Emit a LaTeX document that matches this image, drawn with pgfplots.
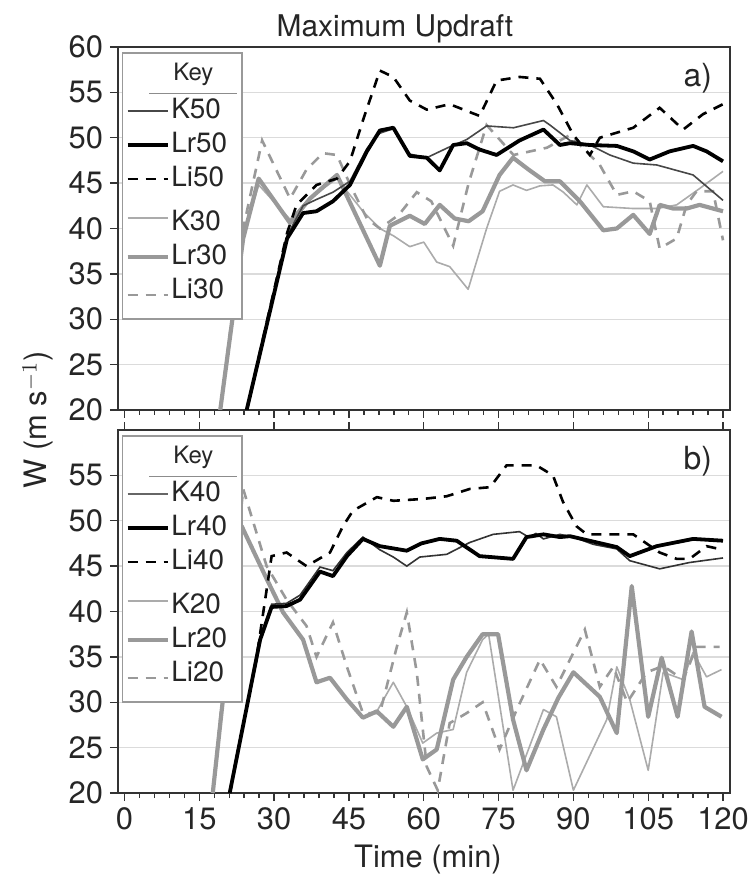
\documentclass[border=0pt]{standalone}
\usepackage{fontspec}
\setmainfont{TeX Gyre Heros}
\usepackage{pgfplots}
\pgfplotsset{compat=1.18}

\newcommand\keytitle{\hspace*{-11bp}\raisebox{-2bp}{\parbox[b]{44bp}{\centering\fontsize{12}{12}\selectfont Key\\[-5bp]\textcolor{black!45}{\rule{44bp}{0.6bp}}}}}

\pgfplotsset{
  kdark/.style={black!72, line width=0.8bp, line join=round},
  lrdark/.style={black, line width=1.9bp, line join=round},
  lidark/.style={black, line width=1.3bp, dash pattern=on 5bp off 4bp},
  klight/.style={black!33, line width=0.8bp, line join=round},
  lrlight/.style={black!40, line width=2.1bp, line join=round},
  lilight/.style={black!40, line width=1.3bp, dash pattern=on 5bp off 4bp},
  panel/.style={
    width=306bp, height=181.5bp, scale only axis,
    xmin=-1.3, xmax=121.4, ymin=20, ymax=60,
    xtick={0,15,...,120}, minor x tick num=4,
    tick align=outside, ytick pos=left, xtick pos=bottom,
    ymajorgrids, grid style={black!14, line width=0.7bp},
    axis line style={black!80, line width=0.8bp},
    major tick length=4bp, minor tick length=2.5bp,
    every tick/.style={black!80, line width=0.7bp},
    ticklabel style={font=\fontsize{15.5}{15.5}\selectfont, text=black!85},
    /pgf/number format/assume math mode=true,
    no markers,
    legend image code/.code={\draw[##1] (0bp,0bp) -- (20bp,0bp);},
    legend cell align=left,
    legend style={at={(rel axis cs:0.0065,0.985)}, anchor=north west,
      draw=black!40, line width=0.6bp, fill=white,
      font=\fontsize{14}{14}\selectfont, text=black!85,
      row sep=0pt, inner sep=1.5bp,
      nodes={inner xsep=0.8bp, inner ysep=0.5bp, text height=11.5bp, text depth=4.5bp}},
  },
}

\begin{document}
\begin{tikzpicture}
\path[use as bounding box] (-59bp,-46.5bp) rectangle (316.5bp,396.5bp);

% ---------------- a) ----------------
\begin{axis}[panel, at={(0bp,191.5bp)}, xticklabels={}, ytick={20,25,...,60}]
\addlegendimage{empty legend}\addlegendentry[text height=16.5bp, text depth=1.5bp]{\keytitle}
\addlegendimage{kdark}\addlegendentry{K50}
\addlegendimage{lrdark}\addlegendentry{Lr50}
\addlegendimage{lidark}\addlegendentry{Li50}
\addlegendimage{klight}\addlegendentry[text height=16.5bp]{K30}
\addlegendimage{lrlight}\addlegendentry{Lr30}
\addlegendimage{lilight}\addlegendentry[text depth=8.5bp]{Li30}

% K30
\addplot[klight, forget plot] coordinates {
(19.2,20) (23.8,39) (26.9,44.8) (33.2,41) (37,43.3) (42.6,45.5) (47.8,41.9)
(51.2,40) (53.9,39.2) (57.2,38) (60,38.5) (62.6,36.3) (65.2,35.8) (68.9,33.3)
(72.6,40) (75.2,44.1) (77.9,44.8) (80.6,44.2) (83.3,44.7) (85.9,44.8) (88,44)
(90.7,42.6) (92.7,44.8) (96,42.4) (102,42.2) (106.7,42.2) (110.7,42.6)
(115.3,44.4) (120,46.3)};
% Li30
\addplot[lilight, forget plot] coordinates {
(19.2,20) (23.8,40) (27.6,49.7) (33.2,43.3) (36.5,46.5) (39.8,48.3) (42.6,48.1)
(45.5,44.5) (48.6,41.1) (51.2,40) (55,41.5) (58.6,44) (61.5,43) (65.9,38.1)
(69,45) (72.6,51.4) (78,48.1) (84.7,48.9) (89.3,50.3) (95.3,47) (98.7,43.7)
(102,44.1) (105.3,43) (107.3,37.8) (110.7,38.9) (112.7,42.6) (114.7,44.1)
(118,44.1) (120,38.7)};
% Lr30
\addplot[lrlight, forget plot] coordinates {
(19.2,20) (23.8,38.9) (26.9,45.5) (33.2,40.6) (37.2,43.3) (42.6,45.9)
(51.2,35.9) (53.2,40.3) (57.2,41.4) (60.2,40.5) (63.2,42.6) (66.2,41.1)
(69,40.8) (71.8,41.9) (75.2,45.9) (77.9,47.8) (81,46.5) (84.3,45.2) (87.3,45.2)
(91.3,43) (96,39.8) (98.7,40) (102,41.5) (105.3,39.4) (107.3,42.6) (110,42.2)
(112.7,42.2) (115.3,42.6) (120,41.9)};
% K50
\addplot[kdark, forget plot] coordinates {
(24.5,20) (32.6,39.2) (35.8,42.5) (38.5,43.2) (41.8,44) (45.2,45.2) (48.6,48.8)
(51.2,50.5) (53.9,51) (57.2,48.2) (60.6,47.8) (65.2,49) (68.6,49.8) (72.6,51.3)
(78,51.1) (84,51.9) (85.3,51.4) (89.3,49.7) (93.3,49.2) (97.3,48.1) (102,47.2)
(106.7,47) (114,45.9) (120,43.1)};
% Li50
\addplot[lidark, forget plot] coordinates {
(24.5,20) (32.6,39.5) (34.5,42.6) (38.5,44.8) (42.6,45.5) (45.2,47.4)
(47.8,51.9) (51.2,57.4) (53.9,56.7) (57.2,54.1) (60.6,53.1) (65.2,53.7)
(71.2,52.4) (74.6,56.3) (79.2,56.7) (83.3,56.5) (86.7,53.7) (90,50.3)
(93.3,48.1) (95.3,50) (102,51.1) (107.3,53.3) (112,50.9) (116,52.6) (120,53.7)};
% Lr50
\addplot[lrdark, forget plot] coordinates {
(24.5,20) (32.6,38.9) (35.8,41.7) (38.5,41.9) (41.8,43) (45.2,44.8) (48.6,48.5)
(51.2,50.8) (53.9,51.1) (57.2,48) (60.6,47.8) (63.2,46.4) (65.9,49.2)
(68.6,49.4) (71.2,48.7) (74.6,48.1) (79.2,49.7) (84,50.9) (87.3,49.2)
(89.3,49.4) (93.3,49.2) (98.7,49.1) (102,48.5) (105.3,47.6) (109.3,48.5)
(114,49.1) (116.7,48.5) (120,47.4)};

\node[anchor=north east, font=\fontsize{16}{16}\selectfont, text=black!85]
  at (rel axis cs:0.982,0.975) {a)};
\end{axis}

% ---------------- b) ----------------
\begin{axis}[panel, at={(0bp,0bp)}, ytick={20,25,...,55},
  extra x ticks={0,15,...,120}, extra x tick labels={},
  extra x tick style={xtick pos=top}]
\addlegendimage{empty legend}\addlegendentry[text height=16.5bp, text depth=1.5bp]{\keytitle}
\addlegendimage{black!60, line width=1.1bp}\addlegendentry{K40}
\addlegendimage{lrdark}\addlegendentry{Lr40}
\addlegendimage{lidark}\addlegendentry{Li40}
\addlegendimage{klight}\addlegendentry[text height=16.5bp]{K20}
\addlegendimage{lrlight}\addlegendentry{Lr20}
\addlegendimage{lilight}\addlegendentry[text depth=8.5bp]{Li20}

% K20
\addplot[klight, forget plot] coordinates {
(17.7,20) (23.5,49.4) (28.5,43.6) (31.8,39.9) (35.8,36.9) (38.5,32.2)
(41.2,32.7) (44.6,30.3) (47.8,28.3) (50.6,29) (53.9,32.2) (56.6,29.5)
(59.8,25.5) (62.6,26.6) (65.9,27) (68.6,33.3) (71.8,36.9) (73,37.5)
(77.9,20.3) (84,29.2) (86.6,28.4) (90,20.3) (96.7,28.1) (98.7,33.9)
(101.3,30.3) (105,22.5) (108,33.3) (112,32.5) (114,35.5) (116.7,32.8) (119.7,33.6)};
% Li20
\addplot[lilight, forget plot] coordinates {
(17.7,20) (23.8,53.5) (28.5,45) (32.5,41.3) (36.5,38.4) (38.5,35) (41.8,38.8)
(44.6,33.9) (47.8,28.8) (51.2,28.8) (54.6,36.1) (56.6,39.9) (58.6,33.3)
(60.6,22.9) (62.8,20.3) (65.2,27.7) (68.6,28.8) (71.8,30) (75.2,24.8)
(78.5,29) (83.3,34.7) (86.6,31.7) (92.3,38) (95.3,31.7) (98,33.9) (100.8,30)
(104.7,33.3) (108,34) (112,32.5) (114.7,36.1) (119.3,36.1)};
% Lr20
\addplot[lrlight, forget plot] coordinates {
(17.7,20) (23.5,49.4) (28.5,43.6) (31.8,39.9) (35.8,36.9) (38.5,32.2)
(41.2,32.7) (44.6,30.3) (47.8,28.3) (50.6,29) (53.9,27.3) (56.6,29.5)
(59.8,23.7) (62.6,24.8) (65.9,32.5) (68.6,35) (71.8,37.5) (74.9,37.5)
(77.9,28.1) (80.6,22.5) (84,27) (87,30.5) (90,33.3) (95.3,30.6) (98.7,26.6)
(101.7,42.8) (105,28.4) (107.7,34.9) (110.9,28.4) (113.7,37.8) (116.3,29.5)
(119.7,28.4)};
% K40
\addplot[black!80, line width=0.8bp, forget plot] coordinates {
(21.1,20) (27.2,37.2) (29.5,40.8) (32.5,40.9) (35.2,41.8) (39.2,44.9)
(41.8,44.5) (44.6,46.5) (47.8,48.2) (51.2,46.8) (53.9,46) (56.6,45) (59.2,46)
(64.6,46.3) (69.2,47.6) (73.9,48.5) (79.2,48.8) (81,48.2) (82.5,48.6) (84,48)
(87.3,48.5) (90,48.2) (94,47.4) (98.7,46.9) (101.3,45.6) (107.3,44.7)
(113.3,45.4) (120,45.9)};
% Li40
\addplot[lidark, forget plot] coordinates {
(21.1,20) (26.5,35) (29.5,46.1) (32.5,46.5) (36.5,45) (41.2,46.5) (43.8,49.4)
(45.8,51.1) (50.6,52.6) (53.9,52.2) (59.8,52.4) (64.6,52.7) (69.2,53.5)
(73.3,53.7) (76.6,56.1) (82.6,56.1) (85.9,55) (87.9,52.1) (90.6,49.4)
(92.7,48.5) (102,48.5) (107.3,46.5) (110.7,45.8) (113.3,45.8) (116.7,47.2)
(120,46.8)};
% Lr40
\addplot[lrdark, forget plot] coordinates {
(21.1,20) (27.2,36.9) (29.5,40.5) (32.5,40.6) (35.2,41.3) (39.2,44.4)
(41.8,43.9) (44.6,46.1) (47.8,48) (51.2,47.2) (56.6,46.7) (59.5,47.5)
(63.2,48) (66.6,47.8) (71.2,46.1) (77.9,45.8) (80.6,48.2) (84,48.5)
(87.3,48.2) (89.3,48.3) (94,47.7) (98.7,47.1) (101.3,46.1) (106.7,47.2)
(114,48) (120,47.8)};

\node[anchor=north east, font=\fontsize{16}{16}\selectfont, text=black!85]
  at (rel axis cs:0.982,0.975) {b)};
\end{axis}

\node[font=\fontsize{15}{15}\selectfont, text=black!85] at (138.5bp,382bp) {Maximum Updraft};
\node[font=\fontsize{15.5}{15.5}\selectfont, text=black!85, rotate=90] at (-40bp,186.5bp) {W (m s$^{-1}$)};
\node[font=\fontsize{15.5}{15.5}\selectfont, text=black!85] at (155bp,-33.5bp) {Time (min)};
\end{tikzpicture}
\end{document}
